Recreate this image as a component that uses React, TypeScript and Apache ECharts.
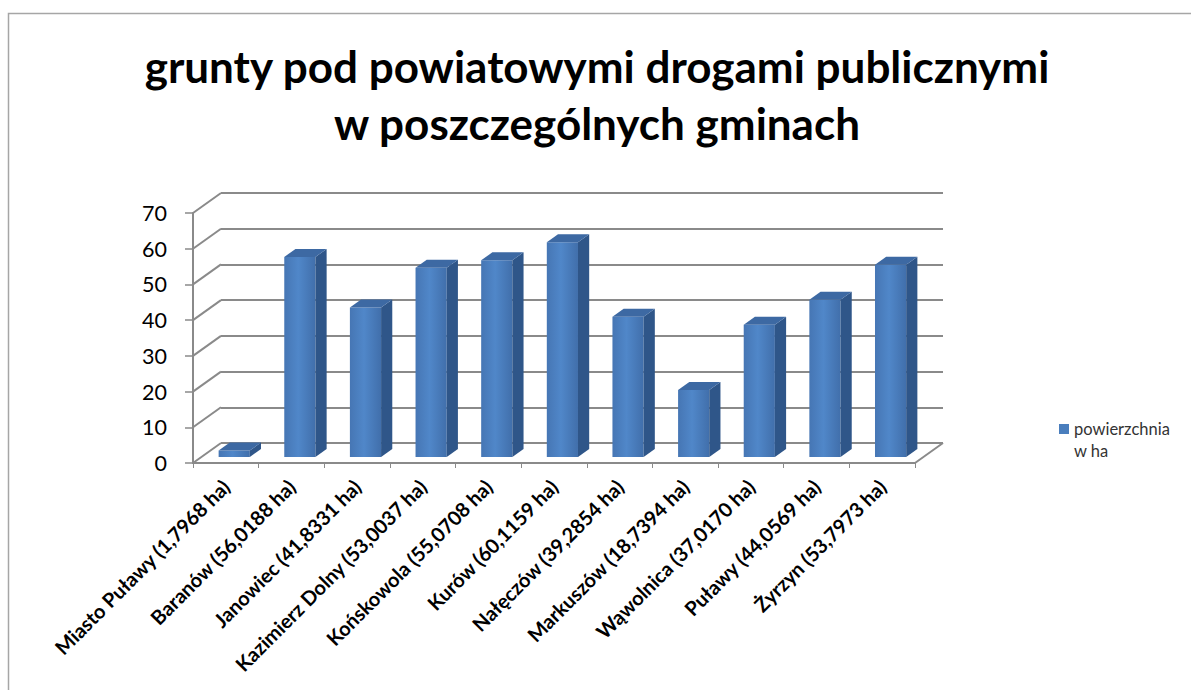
import React, { useEffect, useRef } from "react";
import * as echarts from "echarts";

const titleLines = ["grunty pod powiatowymi drogami publicznymi", "w poszczególnych gminach"];
const categories = [
  "Miasto Puławy (1,7968 ha)",
  "Baranów (56,0188 ha)",
  "Janowiec (41,8331 ha)",
  "Kazimierz Dolny (53,0037 ha)",
  "Końskowola (55,0708 ha)",
  "Kurów (60,1159 ha)",
  "Nałęczów (39,2854 ha)",
  "Markuszów (18,7394 ha)",
  "Wąwolnica (37,0170 ha)",
  "Puławy (44,0569 ha)",
  "Żyrzyn (53,7973 ha)",
];
const values = [1.7968, 56.0188, 41.8331, 53.0037, 55.0708, 60.1159, 39.2854, 18.7394, 37.017, 44.0569, 53.7973];
const seriesName = "powierzchnia w ha";
const yTicks = [0, 10, 20, 30, 40, 50, 60, 70];

const FONT = "Lato";
const GRID_L = 193, GRID_T = 213, GRID_W = 722, GRID_H = 250;
const DEPTH_X = 28, DEPTH_Y = -20;
const GRAY = "#8a8a8a";
const SIDE = "#2f5689";
const TOP = "#3d69a3";
const LEGEND_COLOR = "#4a7ebd";

export default function App() {
  const ref = useRef<HTMLDivElement>(null);
  useEffect(() => {
    if (!ref.current) return;
    const chart = echarts.init(ref.current, null, { renderer: "svg" });
    chart.setOption({
      animation: false,
      backgroundColor: "#ffffff",
      title: {
        text: titleLines.join("\n"),
        left: 592,
        top: 32,
        textAlign: "center",
        textStyle: { fontFamily: FONT, fontWeight: "bold", fontSize: 44, lineHeight: 57, color: "#000" },
      },
      graphic: [
        {
          type: "rect",
          z: -10,
          shape: { x: 8.5, y: 13.5, width: 1200, height: 700 },
          style: { fill: "none", stroke: "#a6a6a6", lineWidth: 1.5 },
        },
      ],
      legend: {
        data: [seriesName],
        left: 1054,
        top: 413,
        itemWidth: 10,
        itemHeight: 32,
        itemGap: 6,
        icon: "path://M0,0h10v10h-10z M0,31.9h0.1v0.1h-0.1z",
        formatter: () => "powierzchnia\nw ha",
        textStyle: { fontFamily: FONT, fontSize: 16.5, color: "#333", lineHeight: 22 },
      },
      grid: [
        { left: GRID_L, top: GRID_T, width: GRID_W, height: GRID_H },
        { left: GRID_L + DEPTH_X, top: GRID_T + DEPTH_Y, width: GRID_W, height: GRID_H },
      ],
      xAxis: [
        {
          type: "category",
          gridIndex: 0,
          data: categories,
          axisLine: { lineStyle: { color: GRAY, width: 2 } },
          axisTick: { show: true, length: 5, interval: 0, lineStyle: { color: GRAY, width: 1 } },
          axisLabel: {
            interval: 0,
            rotate: 45,
            margin: 20,
            fontFamily: FONT,
            fontWeight: "bold",
            fontSize: 20,
            color: "#000",
          },
        },
        { type: "category", gridIndex: 1, data: categories, show: false },
      ],
      yAxis: [
        {
          type: "value",
          gridIndex: 0,
          min: 0,
          max: 70,
          interval: 10,
          axisLine: { show: true, lineStyle: { color: GRAY, width: 2 } },
          axisTick: { show: true, length: 8, lineStyle: { color: GRAY, width: 1.5 } },
          splitLine: { show: false },
          axisLabel: { margin: 26, fontFamily: FONT, fontSize: 21.5, color: "#000" },
        },
        {
          type: "value",
          gridIndex: 1,
          min: 0,
          max: 70,
          interval: 10,
          axisLine: { show: false },
          axisTick: { show: false },
          axisLabel: { show: false },
          splitLine: { show: true, lineStyle: { color: GRAY, width: 2 } },
        },
      ],
      series: [
        {
          type: "custom",
          name: "walls",
          xAxisIndex: 0,
          yAxisIndex: 0,
          z: 1,
          silent: true,
          data: yTicks.map((v) => [0, v]),
          encode: { x: 0, y: 1 },
          renderItem: (params: any, api: any) => {
            const cs = params.coordSys;
            const y = api.coord([0, api.value(1)])[1];
            const children: any[] = [
              {
                type: "line",
                shape: { x1: cs.x, y1: y, x2: cs.x + DEPTH_X, y2: y + DEPTH_Y },
                style: { stroke: GRAY, lineWidth: 2 },
              },
            ];
            if (api.value(1) === 0) {
              children.push({
                type: "line",
                shape: { x1: cs.x + cs.width, y1: y, x2: cs.x + cs.width + DEPTH_X, y2: y + DEPTH_Y },
                style: { stroke: GRAY, lineWidth: 2 },
              });
            }
            return { type: "group", children };
          },
        },
        {
          type: "custom",
          name: seriesName,
          xAxisIndex: 0,
          yAxisIndex: 0,
          z: 5,
          itemStyle: { color: LEGEND_COLOR },
          data: values.map((v, i) => [i, v]),
          encode: { x: 0, y: 1 },
          renderItem: (params: any, api: any) => {
            const i = api.value(0);
            const v = api.value(1);
            const top = api.coord([i, v]);
            const base = api.coord([i, 0]);
            const band = api.size([1, 0])[0];
            const w = band * 0.475;
            const ox = DEPTH_X * 0.3, oy = DEPTH_Y * 0.3;
            const bx = DEPTH_X * 0.4, by = DEPTH_Y * 0.4;
            const x0 = top[0] - w / 2 + ox;
            const x1 = x0 + w;
            const yb = base[1] + oy;
            const yt = top[1] + oy;
            return {
              type: "group",
              children: [
                {
                  type: "rect",
                  shape: { x: x0, y: yt, width: w, height: yb - yt },
                  style: {
                    fill: new echarts.graphic.LinearGradient(0, 0, 1, 0, [
                      { offset: 0, color: "#4676b4" },
                      { offset: 0.45, color: "#5087c9" },
                      { offset: 1, color: "#416fab" },
                    ]),
                  },
                },
                {
                  type: "polygon",
                  shape: { points: [[x1, yb], [x1, yt], [x1 + bx, yt + by], [x1 + bx, yb + by]] },
                  style: { fill: SIDE },
                },
                {
                  type: "polygon",
                  shape: { points: [[x0, yt], [x1, yt], [x1 + bx, yt + by], [x0 + bx, yt + by]] },
                  style: { fill: TOP },
                },
              ],
            };
          },
        },
      ],
    });
    return () => chart.dispose();
  }, []);
  return <div ref={ref} style={{ position: "absolute", left: 0, top: 0, width: 1191, height: 690 }} />;
}
